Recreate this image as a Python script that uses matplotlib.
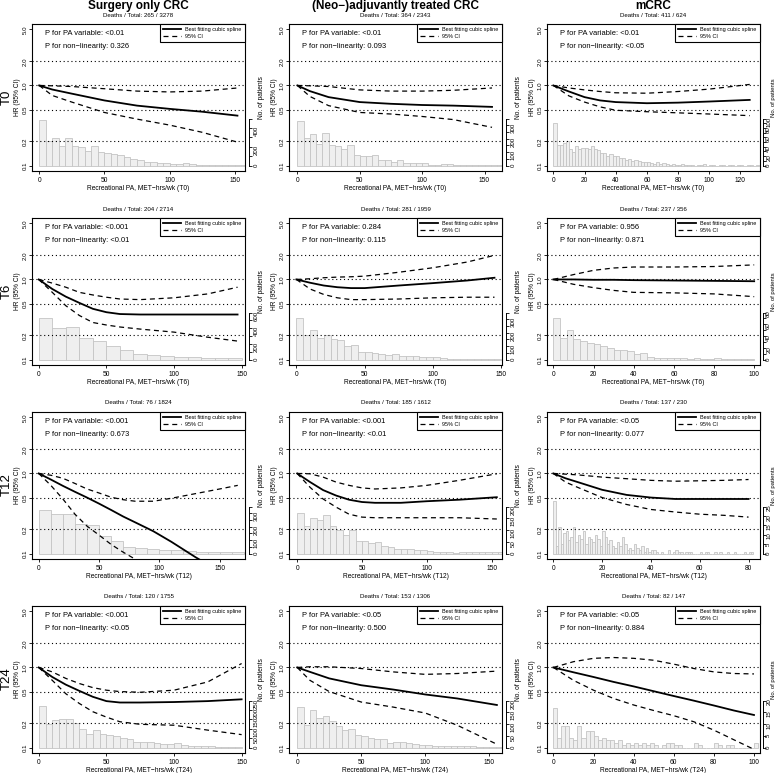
import numpy as np
import matplotlib.pyplot as plt

plt.rcParams['font.family'] = ['Liberation Sans', 'DejaVu Sans']

# ---------------- spline fits (HR with 95% CI) ----------------
surg_t0_x = [0, 10, 25, 50, 75, 100, 125, 152]
surg_t0_hr = [1.0, 0.89, 0.79, 0.65, 0.56, 0.51, 0.47, 0.42]
surg_t0_hi = [1.0, 0.99, 0.97, 0.91, 0.85, 0.83, 0.85, 0.93]
surg_t0_lo = [1.0, 0.75, 0.62, 0.46, 0.38, 0.32, 0.26, 0.196]

neo_t0_x = [0, 10, 25, 50, 75, 100, 125, 156]
neo_t0_hr = [1.0, 0.85, 0.715, 0.62, 0.59, 0.57, 0.56, 0.54]
neo_t0_hi = [1.0, 0.99, 0.97, 0.88, 0.85, 0.85, 0.87, 0.93]
neo_t0_lo = [1.0, 0.73, 0.56, 0.46, 0.44, 0.41, 0.375, 0.30]

mcrc_t0_x = [0, 10, 20, 30, 40, 60, 80, 100, 126]
mcrc_t0_hr = [1.0, 0.84, 0.715, 0.65, 0.62, 0.60, 0.61, 0.63, 0.66]
mcrc_t0_hi = [1.0, 0.93, 0.88, 0.84, 0.81, 0.80, 0.84, 0.90, 1.03]
mcrc_t0_lo = [1.0, 0.74, 0.62, 0.54, 0.49, 0.47, 0.455, 0.44, 0.42]

surg_t6_x = [0, 10, 20, 30, 40, 50, 60, 75, 100, 125, 147]
surg_t6_hr = [1.0, 0.76, 0.61, 0.51, 0.43, 0.39, 0.37, 0.365, 0.365, 0.365, 0.365]
surg_t6_hi = [1.0, 0.90, 0.80, 0.69, 0.64, 0.60, 0.57, 0.56, 0.59, 0.66, 0.80]
surg_t6_lo = [1.0, 0.69, 0.47, 0.355, 0.29, 0.27, 0.255, 0.24, 0.22, 0.19, 0.17]

neo_t6_x = [0, 10, 20, 30, 40, 50, 75, 100, 125, 145]
neo_t6_hr = [1.0, 0.91, 0.84, 0.80, 0.78, 0.78, 0.84, 0.90, 0.97, 1.05]
neo_t6_hi = [1.0, 1.02, 1.05, 1.07, 1.08, 1.10, 1.23, 1.40, 1.65, 2.0]
neo_t6_lo = [1.0, 0.76, 0.65, 0.59, 0.56, 0.56, 0.57, 0.59, 0.60, 0.60]

mcrc_t6_x = [0, 10, 20, 30, 40, 60, 80, 100]
mcrc_t6_hr = [1.0, 1.0, 0.99, 0.99, 0.98, 0.97, 0.96, 0.95]
mcrc_t6_hi = [1.0, 1.15, 1.30, 1.39, 1.43, 1.43, 1.45, 1.52]
mcrc_t6_lo = [1.0, 0.87, 0.79, 0.73, 0.69, 0.68, 0.66, 0.61]

surg_t12_x = [0, 10, 20, 30, 40, 50, 60, 70, 80, 95, 110, 130, 150, 165]
surg_t12_hr = [1.0, 0.84, 0.70, 0.59, 0.50, 0.42, 0.35, 0.29, 0.245, 0.19, 0.14, 0.09, 0.06, 0.045]
surg_t12_hi = [1.0, 0.95, 0.87, 0.75, 0.64, 0.57, 0.505, 0.47, 0.45, 0.45, 0.49, 0.56, 0.64, 0.71]
surg_t12_lo = [1.0, 0.71, 0.48, 0.31, 0.22, 0.17, 0.13, 0.104, 0.085]

neo_t12_x = [0, 10, 20, 30, 40, 50, 60, 80, 100, 125, 154]
neo_t12_hr = [1.0, 0.78, 0.62, 0.53, 0.47, 0.44, 0.43, 0.43, 0.45, 0.47, 0.505]
neo_t12_hi = [1.0, 0.99, 0.90, 0.78, 0.71, 0.66, 0.64, 0.66, 0.71, 0.82, 0.99]
neo_t12_lo = [1.0, 0.67, 0.48, 0.38, 0.31, 0.285, 0.28, 0.28, 0.28, 0.28, 0.27]

mcrc_t12_x = [0, 5, 10, 20, 30, 40, 50, 60, 70, 80]
mcrc_t12_hr = [1.0, 0.87, 0.78, 0.625, 0.54, 0.50, 0.48, 0.48, 0.48, 0.48]
mcrc_t12_hi = [1.0, 0.98, 0.96, 0.90, 0.86, 0.82, 0.80, 0.81, 0.82, 0.84]
mcrc_t12_lo = [1.0, 0.78, 0.67, 0.50, 0.41, 0.355, 0.33, 0.31, 0.30, 0.285]

surg_t24_x = [0, 10, 20, 30, 40, 50, 60, 75, 100, 125, 150]
surg_t24_hr = [1.0, 0.76, 0.61, 0.51, 0.43, 0.38, 0.365, 0.365, 0.37, 0.38, 0.40]
surg_t24_hi = [1.0, 0.88, 0.73, 0.63, 0.56, 0.52, 0.50, 0.49, 0.52, 0.66, 1.12]
surg_t24_lo = [1.0, 0.69, 0.47, 0.355, 0.28, 0.24, 0.21, 0.195, 0.19, 0.165, 0.145]

neo_t24_x = [0, 10, 25, 50, 75, 100, 125, 156]
neo_t24_hr = [1.0, 0.88, 0.73, 0.60, 0.53, 0.46, 0.41, 0.34]
neo_t24_hi = [1.0, 1.02, 1.02, 0.97, 0.88, 0.82, 0.84, 0.90]
neo_t24_lo = [1.0, 0.69, 0.50, 0.37, 0.32, 0.27, 0.19, 0.11]

mcrc_t24_x = [0, 10, 20, 30, 40, 50, 60, 70, 80, 90, 100]
mcrc_t24_hr = [1.0, 0.87, 0.76, 0.66, 0.58, 0.505, 0.44, 0.385, 0.335, 0.29, 0.255]
mcrc_t24_hi = [1.0, 1.18, 1.30, 1.33, 1.30, 1.23, 1.10, 0.97, 0.88, 0.84, 0.83]
mcrc_t24_lo = [1.0, 0.69, 0.52, 0.41, 0.34, 0.29, 0.25, 0.21, 0.165, 0.125, 0.095]

# ---------------- histograms: no. of patients per bin (bins start at 0) ----------------
surg_t0_counts = [489, 257, 293, 207, 293, 207, 196, 153, 207, 143, 132, 125, 107, 96, 71, 61, 43,
                  36, 32, 25, 21, 18, 29, 18, 11, 11, 11, 7, 7, 7, 4, 7, 4]
neo_t0_counts = [335, 203, 233, 164, 245, 154, 142, 122, 154, 81, 73, 69, 78, 44, 42, 29, 42, 22,
                 17, 17, 22, 7, 5, 10, 10, 7, 5, 7, 5, 5, 7, 5, 5]
mcrc_t0_counts = [90, 43, 44, 49, 52, 36, 29, 41, 36, 38, 38, 36, 41, 36, 33, 27, 26, 20, 24, 20,
                  21, 16, 16, 11, 14, 10, 11, 10, 8, 7, 8, 5, 3, 7, 3, 5, 3, 2, 3, 1, 2, 4, 1, 2,
                  1, 0, 2, 1, 3, 0, 1, 2, 0, 1, 1, 0, 2, 1, 0, 1, 1, 0, 1, 2, 0, 1]
surg_t6_counts = [531, 408, 415, 281, 235, 173, 127, 69, 58, 42, 38, 31, 15, 15, 19]
neo_t6_counts = [306, 179, 217, 162, 184, 151, 144, 100, 111, 55, 55, 51, 40, 33, 44, 24, 29, 24,
                 18, 18, 18, 11, 7, 7, 7, 4, 4, 4, 4, 4]
mcrc_t6_counts = [71, 36, 50, 35, 31, 28, 26, 23, 19, 16, 16, 14, 9, 11, 4, 3, 2, 2, 3, 2, 1, 2,
                  1, 1, 2, 1, 1, 1, 1, 1]
surg_t12_counts = [322, 291, 296, 221, 209, 127, 92, 52, 45, 33, 26, 26, 16, 9, 9, 14, 14]
neo_t12_counts = [172, 118, 150, 143, 162, 118, 99, 78, 99, 53, 55, 43, 49, 34, 26, 21, 21, 18, 15,
                  13, 10, 8, 5, 5, 4, 5, 6, 5, 5, 5, 5, 5]
mcrc_t12_counts = [28, 4, 14, 5, 11, 12, 7, 9, 14, 6, 10, 8, 12, 5, 9, 8, 6, 10, 8, 4, 12, 9, 5, 7,
                   4, 3, 6, 4, 9, 5, 2, 3, 2, 5, 3, 2, 4, 1, 3, 1, 2, 2, 1, 0, 1, 0, 0, 2, 0, 1,
                   2, 1, 1, 0, 1, 1, 1, 0, 0, 0, 1, 0, 1, 1, 0, 0, 1, 0, 1, 0, 0, 1, 0, 0, 1, 0,
                   0, 0, 1, 0, 1, 1]
surg_t24_counts = [221, 125, 144, 154, 152, 130, 101, 72, 93, 74, 69, 64, 53, 48, 32, 29, 29, 24,
                   21, 19, 24, 13, 10, 10, 8, 6, 5, 3, 3, 5]
neo_t24_counts = [172, 98, 158, 125, 135, 113, 91, 76, 81, 54, 50, 41, 35, 35, 20, 22, 25, 20, 16,
                  10, 12, 7, 6, 7, 6, 6, 5, 5, 4, 4, 2, 2]
mcrc_t24_counts = [17, 4, 9, 9, 4, 3, 9, 4, 7, 7, 5, 3, 4, 3, 3, 2, 3, 1, 2, 1, 2, 1, 2, 1, 2, 1,
                   0, 1, 2, 2, 1, 1, 0, 0, 0, 2, 1, 0, 0, 0, 2, 1, 0, 1, 1, 0, 0, 0, 0, 0, 2]

groups = ['Surgery only CRC', '(Neo\u2212)adjuvantly treated CRC', 'mCRC']
timepoints = ['T0', 'T6', 'T12', 'T24']
deaths = [['265 / 3278', '364 / 2343', '411 / 624'],
          ['204 / 2714', '281 / 1959', '237 / 356'],
          ['76 / 1824', '185 / 1612', '137 / 230'],
          ['120 / 1755', '153 / 1306', '82 / 147']]
p_pa = [['<0.01', '<0.01', '<0.01'],
        ['<0.001', '0.284', '0.956'],
        ['<0.001', '<0.001', '<0.05'],
        ['<0.001', '<0.05', '<0.05']]
p_nonlin = [['0.326', '0.093', '<0.05'],
            ['<0.01', '0.115', '0.871'],
            ['0.673', '<0.01', '0.077'],
            ['<0.05', '0.500', '0.884']]

fits = [[(surg_t0_x, surg_t0_hr, surg_t0_hi, surg_t0_lo), (neo_t0_x, neo_t0_hr, neo_t0_hi, neo_t0_lo),
         (mcrc_t0_x, mcrc_t0_hr, mcrc_t0_hi, mcrc_t0_lo)],
        [(surg_t6_x, surg_t6_hr, surg_t6_hi, surg_t6_lo), (neo_t6_x, neo_t6_hr, neo_t6_hi, neo_t6_lo),
         (mcrc_t6_x, mcrc_t6_hr, mcrc_t6_hi, mcrc_t6_lo)],
        [(surg_t12_x, surg_t12_hr, surg_t12_hi, surg_t12_lo), (neo_t12_x, neo_t12_hr, neo_t12_hi, neo_t12_lo),
         (mcrc_t12_x, mcrc_t12_hr, mcrc_t12_hi, mcrc_t12_lo)],
        [(surg_t24_x, surg_t24_hr, surg_t24_hi, surg_t24_lo), (neo_t24_x, neo_t24_hr, neo_t24_hi, neo_t24_lo),
         (mcrc_t24_x, mcrc_t24_hr, mcrc_t24_hi, mcrc_t24_lo)]]
hists = [[surg_t0_counts, neo_t0_counts, mcrc_t0_counts],
         [surg_t6_counts, neo_t6_counts, mcrc_t6_counts],
         [surg_t12_counts, neo_t12_counts, mcrc_t12_counts],
         [surg_t24_counts, neo_t24_counts, mcrc_t24_counts]]
bin_width = [[5, 5, 2], [10, 5, 3.33], [10, 5, 1], [5, 5, 2]]

# ---------------- layout ----------------
xlims = [[(-5.5, 157.8), (-6.7, 164), (-4.1, 132.6)],
         [(-5, 152.5), (-5.4, 150.5), (-3.2, 102.9)],
         [(-5.6, 171), (-6.3, 158), (-2.6, 84.7)],
         [(-5, 152.5), (-6.4, 160), (-3.2, 103)]]
xtick_step = [[50, 50, 20], [50, 50, 20], [50, 50, 20], [50, 50, 20]]
# count axis: (top, tick step, label step)
count_axis = [[(500, 100, 200), (350, 50, 100), (100, 10, 20)],
              [(600, 100, 200), (350, 50, 100), (80, 10, 20)],
              [(350, 50, 100), (200, 50, 50), (25, 5, 5)],
              [(250, 50, 50), (200, 50, 50), (20, 5, 5)]]

W, H = 780, 773
fig = plt.figure(figsize=(W / 100, H / 100), dpi=100)
lefts = [32, 289, 547]
tops = [24, 218, 412, 606]
aw, ah = 213, 147

ylo, yhi = 0.0855, 5.85
f0 = (np.log10(0.1) - np.log10(ylo)) / (np.log10(yhi) - np.log10(ylo))
f1 = 0.357
small = 4.4

for r in range(4):
    for c in range(3):
        ax = fig.add_axes([lefts[c] / W, 1 - (tops[r] + ah) / H, aw / W, ah / H])
        ax2 = ax.twinx()
        ax.set_zorder(ax2.get_zorder() + 1)
        ax.patch.set_visible(False)
        last = (c == 2)

        # histogram on the secondary axis
        counts = hists[r][c]
        bw = bin_width[r][c]
        edges = np.arange(len(counts)) * bw
        ax2.bar(edges, counts, width=bw, align='edge', color='#efefef',
                edgecolor='#c4c4c4', linewidth=0.6)
        ctop, cstep, clab = count_axis[r][c]
        ax2.set_ylim(-f0 / (f1 - f0) * ctop, (1 - f0) / (f1 - f0) * ctop)
        cticks = np.arange(0, ctop + 0.1, cstep)
        ax2.set_yticks(cticks)
        ax2.set_yticklabels([('%g' % t) if (t % clab == 0) else '' for t in cticks])
        ax2.tick_params(axis='y', length=2.0 if last else 2.5, width=0.6,
                        pad=0.5 if last else 0.8, labelsize=small, labelrotation=90)
        for lab in ax2.get_yticklabels():
            lab.set_va('center')
        for s in ['top', 'left', 'bottom']:
            ax2.spines[s].set_visible(False)
        ax2.spines['right'].set_bounds(0, ctop)
        ax2.spines['right'].set_position(('outward', 2.0 if last else 3.0))
        ax2.spines['right'].set_linewidth(0.7)
        ax2.set_ylabel('No. of patients', fontsize=4.3 if last else 4.8)
        ax2.yaxis.set_label_coords(1 + (11.5 if last else 13) / aw, 0.5)

        # spline fit and CI
        x, hr, hi, lo = fits[r][c]
        ax.set_yscale('log')
        for v in [0.2, 0.5, 1.0, 2.0]:
            ax.axhline(v, color='black', linestyle=(0, (1, 2.5)), linewidth=0.8)
        ax.plot(x, hr, color='black', linewidth=1.3, label='Best fitting cubic spline')
        ax.plot(x[:len(hi)], hi, color='black', linewidth=0.9, dashes=(4, 3), label='95% CI')
        ax.plot(x[:len(lo)], lo, color='black', linewidth=0.9, dashes=(4, 3))
        ax.set_ylim(ylo, yhi)
        ax.set_xlim(*xlims[r][c])
        ax.set_yticks([0.1, 0.2, 0.5, 1.0, 2.0, 5.0])
        ax.set_yticklabels(['0.1', '0.2', '0.5', '1.0', '2.0', '5.0'])
        ax.yaxis.set_minor_locator(plt.NullLocator())
        ax.set_xticks(np.arange(0, xlims[r][c][1], xtick_step[r][c]))
        ax.tick_params(axis='x', labelsize=4.8, length=2.5, width=0.6, pad=1.5)
        ax.tick_params(axis='y', length=2.5, width=0.6, pad=0.8, labelsize=small,
                       labelrotation=90)
        for lab in ax.get_yticklabels():
            lab.set_va('center')
        for s in ax.spines.values():
            s.set_linewidth(0.8)
        ax.set_ylabel('HR (95% CI)', fontsize=4.8, labelpad=0.8)
        ax.set_xlabel('Recreational PA, MET\u2212hrs/wk (%s)' % timepoints[r], fontsize=4.8,
                      labelpad=1)

        ax.text(0.061, 0.937, 'P for PA variable: %s' % p_pa[r][c], transform=ax.transAxes,
                fontsize=5.4, va='center')
        ax.text(0.061, 0.85, 'P for non\u2212linearity: %s' % p_nonlin[r][c], transform=ax.transAxes,
                fontsize=5.4, va='center')
        leg = ax.legend(loc='upper right', fontsize=4, frameon=True, fancybox=False,
                        edgecolor='black', framealpha=1, borderaxespad=0, handlelength=3.2,
                        borderpad=0.6, labelspacing=0.25)
        leg.get_frame().set_linewidth(0.8)
        ax.text(0.5, 1 + 9 / ah, 'Deaths / Total: %s' % deaths[r][c], transform=ax.transAxes,
                ha='center', va='center', fontsize=4.4)

for c in range(3):
    fig.text((lefts[c] + aw / 2) / W, 1 - 6 / H, groups[c], ha='center', va='center',
             fontsize=8.5, fontweight='bold')
for r in range(4):
    fig.text(6.5 / W, 1 - (tops[r] + 73) / H, timepoints[r], rotation=90, ha='center',
             va='center', fontsize=9.5)

plt.savefig('out.png', dpi=100)
